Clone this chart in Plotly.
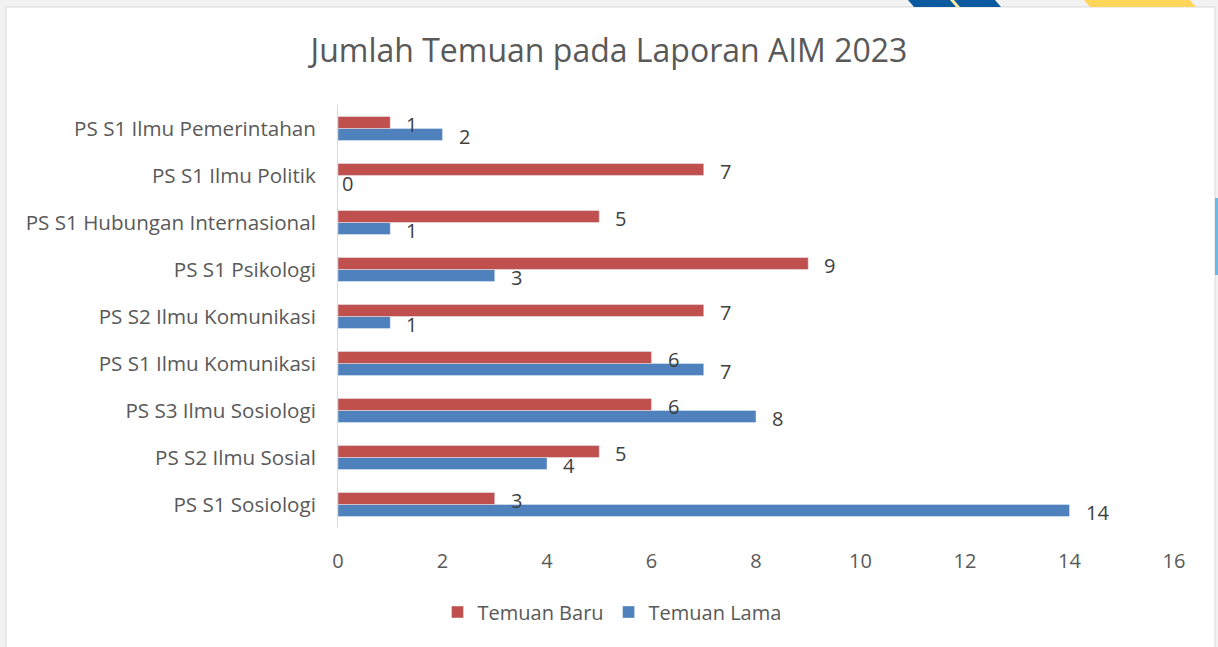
import plotly.graph_objects as go

# kategori dari bawah ke atas (urutan sumbu plotly)
prodi = ['PS S1 Sosiologi', 'PS S2 Ilmu Sosial', 'PS S3 Ilmu Sosiologi',
         'PS S1 Ilmu Komunikasi', 'PS S2 Ilmu Komunikasi', 'PS S1 Psikologi',
         'PS S1 Hubungan Internasional', 'PS S1 Ilmu Politik', 'PS S1 Ilmu Pemerintahan']
temuan_baru = [3, 5, 6, 6, 7, 9, 5, 7, 1]
temuan_lama = [14, 4, 8, 7, 1, 3, 1, 0, 2]
x_ticks = [0, 2, 4, 6, 8, 10, 12, 14, 16]

W, H = 1218, 647
L, R, T, B = 338, 1174, 105, 528


def px_x(p):
    return (p - L) / (R - L)


def px_y(p):
    return (B - p) / (B - T)


FONT = 'Open Sans'
BAR_W = 0.255  # lebar tiap batang (unit kategori)

fig = go.Figure()
fig.add_trace(go.Bar(y=prodi, x=temuan_lama, orientation='h', name='Temuan Lama',
                     marker=dict(color='#4f81bd'), legendrank=2))
fig.add_trace(go.Bar(y=prodi, x=temuan_baru, orientation='h', name='Temuan Baru',
                     marker=dict(color='#c0504d'), legendrank=1))

# label data di ujung batang
annotations = []
for i, (b, l) in enumerate(zip(temuan_baru, temuan_lama)):
    for val, off in ((b, BAR_W / 2), (l, -BAR_W / 2)):
        annotations.append(dict(x=val, y=i + off, xref='x', yref='y', text=str(val),
                                showarrow=False, xanchor='left', yanchor='middle',
                                xshift=14 if val > 0 else 2, yshift=-2,
                                font=dict(size=20, color='#404040', family=FONT)))

shapes = [
    # panel putih
    dict(type='rect', xref='paper', yref='paper', layer='below',
         x0=px_x(6), x1=px_x(1215), y0=px_y(650), y1=px_y(7),
         fillcolor='white', line=dict(color='#d9d9d9', width=1)),
    # hiasan garis miring di atas
    dict(type='path', xref='paper', yref='paper', layer='below',
         path=f'M {px_x(908)} {px_y(0)} L {px_x(995)} {px_y(0)} L {px_x(1001)} {px_y(7)} L {px_x(914)} {px_y(7)} Z',
         fillcolor='#0b5aa0', line=dict(width=0)),
    dict(type='path', xref='paper', yref='paper', layer='below',
         path=f'M {px_x(950)} {px_y(0)} L {px_x(954)} {px_y(0)} L {px_x(960)} {px_y(7)} L {px_x(956)} {px_y(7)} Z',
         fillcolor='#fde9a0', line=dict(width=0)),
    dict(type='path', xref='paper', yref='paper', layer='below',
         path=f'M {px_x(1084)} {px_y(0)} L {px_x(1190)} {px_y(0)} L {px_x(1196)} {px_y(7)} L {px_x(1090)} {px_y(7)} Z',
         fillcolor='#ffd55a', line=dict(width=0)),
    dict(type='rect', xref='paper', yref='paper', layer='below',
         x0=px_x(1215), x1=px_x(1218), y0=px_y(275), y1=px_y(198),
         fillcolor='#6cb8e6', line=dict(width=0)),
]

fig.update_layout(
    width=W, height=H,
    title=dict(text='Jumlah Temuan pada Laporan AIM 2023', x=0.5, xanchor='center',
               y=1 - 51 / H, yanchor='middle',
               font=dict(size=32, color='#595959', family=FONT)),
    barmode='group', bargap=1 - 2 * BAR_W, bargroupgap=0,
    xaxis=dict(range=[0, 16], tickvals=x_ticks, showgrid=False, zeroline=False,
               showline=False, ticks='', ticklabelstandoff=19,
               tickfont=dict(size=20, color='#595959', family=FONT)),
    yaxis=dict(range=[-0.5, 8.5], showgrid=False, zeroline=False, showline=True,
               linecolor='#d9d9d9', linewidth=1, ticks='', ticklabelstandoff=17,
               tickfont=dict(size=20.6, color='#595959', family=FONT)),
    legend=dict(orientation='h', x=px_x(612), xanchor='center',
                y=px_y(612), yanchor='middle', bgcolor='rgba(0,0,0,0)',
                font=dict(size=20, color='#595959', family=FONT)),
    margin=dict(l=L, r=W - R, t=T, b=H - B),
    paper_bgcolor='#f2f2f2', plot_bgcolor='white',
    shapes=shapes, annotations=annotations,
    showlegend=True,
)

fig.write_html('out.html', config={'displayModeBar': False},
               post_script="document.body.style.margin='0';")
